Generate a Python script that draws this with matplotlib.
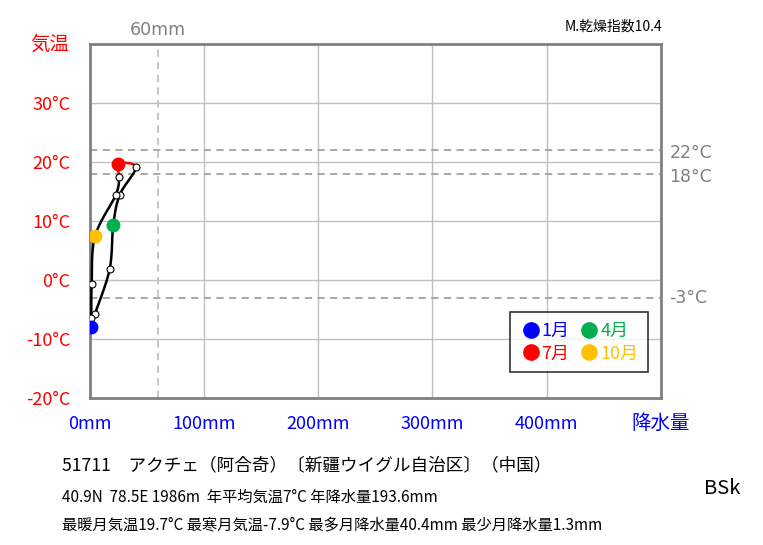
import numpy as np
import matplotlib
matplotlib.use("Agg")
import matplotlib.pyplot as plt
from matplotlib.lines import Line2D
import matplotlib.transforms as mtransforms

plt.rcParams['font.family'] = ['Noto Sans CJK JP', 'DejaVu Sans']

months = ["1月", "2月", "3月", "4月", "5月", "6月", "7月", "8月", "9月", "10月", "11月", "12月"]
temp = [-7.9, -5.8, 1.8, 9.3, 14.4, 19.1, 19.7, 17.5, 14.4, 7.4, -0.6, -6.4]
precip = [1.3, 4.6, 17.5, 20.7, 26.3, 40.4, 24.5, 25.8, 22.8, 4.7, 1.8, 1.5]
highlight = {0: "#0000ff", 3: "#00b050", 6: "#ff0000", 9: "#ffc000"}
yticks = [-20, -10, 0, 10, 20, 30]
xticks = [0, 100, 200, 300, 400]
ref_temps = [22, 18, -3]
ref_precip = 60

W, H = 763, 545
fig = plt.figure(figsize=(W / 100, H / 100), dpi=100)
ax = fig.add_axes([89.6 / W, 1 - 398 / H, (661 - 89.6) / W, (398 - 44) / H])
ax.set_xlim(0, 500)
ax.set_ylim(-20, 40)

for s in ax.spines.values():
    s.set_color("#808080")
    s.set_linewidth(2)
ax.tick_params(length=0)
ax.set_xticks(xticks)
ax.set_yticks(yticks)
ax.set_xticklabels([f"{v}mm" for v in xticks], color="#0000ff", fontsize=13)
ax.set_yticklabels([f"{v}°C" for v in yticks], color="#ff0000", fontsize=13)
ax.tick_params(axis='x', pad=12)
ax.tick_params(axis='y', pad=14)
for v in xticks[1:]:
    ax.axvline(v, color="#c0c0c0", lw=1, zorder=1)
for v in [-10, 0, 10, 20, 30]:
    ax.axhline(v, color="#c0c0c0", lw=1, zorder=1)
down = mtransforms.offset_copy(ax.get_yaxis_transform(), fig=fig, x=0, y=-3, units='dots')
for v in ref_temps:
    ax.axhline(v, color="#a0a0a0", lw=1.3, ls=(0, (4, 3)), zorder=1.5)
    ax.text(1.015, v, f"{v}°C", transform=down if v > 0 else ax.get_yaxis_transform(),
            color="#808080", fontsize=12.5, va="center", ha="left",
            family=['DejaVu Sans'])
ax.axvline(ref_precip, color="#c0c0c0", lw=1.3, ls=(0, (4, 3)), zorder=1.5)
ax.text(ref_precip, 1.04, f"{ref_precip}mm", transform=ax.get_xaxis_transform(),
        color="#808080", fontsize=12.5, ha="center", va="center", family=['DejaVu Sans'])

# smoothed closed curve (Catmull-Rom in display-proportional space)
sx, sy = 1.143, 5.9
P = np.column_stack([np.array(precip) * sx, np.array(temp) * sy])
n = len(P)
for i in range(n):
    p0, p1, p2, p3 = P[(i - 1) % n], P[i], P[(i + 1) % n], P[(i + 2) % n]
    t = np.linspace(0, 1, 30)[:, None]
    seg = 0.5 * ((2 * p1) + (-p0 + p2) * t + (2 * p0 - 5 * p1 + 4 * p2 - p3) * t ** 2
                 + (-p0 + 3 * p1 - 3 * p2 + p3) * t ** 3)
    col = "#ff0000" if i in (5, 6) else "black"
    ax.plot(seg[:, 0] / sx, seg[:, 1] / sy, color=col, lw=1.8, zorder=3)

for i in range(n):
    if i in highlight:
        ax.plot(precip[i], temp[i], "o", ms=9, color=highlight[i], mec=highlight[i], zorder=5)
    else:
        ax.plot(precip[i], temp[i], "o", ms=5, mfc="white", mec="black", mew=0.8, zorder=4)

order = [0, 6, 3, 9]
handles = [Line2D([], [], ls="none", marker="o", ms=11, color=highlight[i]) for i in order]
leg = ax.legend(handles, [months[i] for i in order], ncol=2, loc="upper left",
                bbox_to_anchor=((510 - 89.6) / 571.4, (398 - 312) / 354),
                borderaxespad=0, frameon=True, fancybox=False, fontsize=13,
                handletextpad=0.0, columnspacing=0.5, handlelength=1.2,
                borderpad=0.55, labelspacing=0.25,
                labelcolor=[highlight[i] for i in order])
leg.get_frame().set_edgecolor("black")
leg.get_frame().set_linewidth(1.2)

fig.text(50 / W, 1 - 44 / H, "気温", color="#ff0000", fontsize=14, ha="center", va="center")
fig.text(661 / W, 1 - 423 / H, "降水量", color="#0000ff", fontsize=14, ha="center", va="center")
fig.text(662 / W, 1 - 27 / H, "M.乾燥指数10.4", fontsize=10, ha="right", va="center")
fig.text(62 / W, 1 - 465 / H, "51711　アクチェ（阿合奇）〔新疆ウイグル自治区〕（中国）",
         fontsize=12.7, ha="left", va="center")
fig.text(62 / W, 1 - 497 / H, "40.9N  78.5E 1986m  年平均気温7°C 年降水量193.6mm",
         fontsize=11, ha="left", va="center")
fig.text(62 / W, 1 - 525 / H, "最暖月気温19.7°C 最寒月気温-7.9°C 最多月降水量40.4mm 最少月降水量1.3mm",
         fontsize=11, ha="left", va="center")
fig.text(722 / W, 1 - 488 / H, "BSk", fontsize=14.5, ha="center", va="center")

fig.savefig("out.png", dpi=100, facecolor="white")
